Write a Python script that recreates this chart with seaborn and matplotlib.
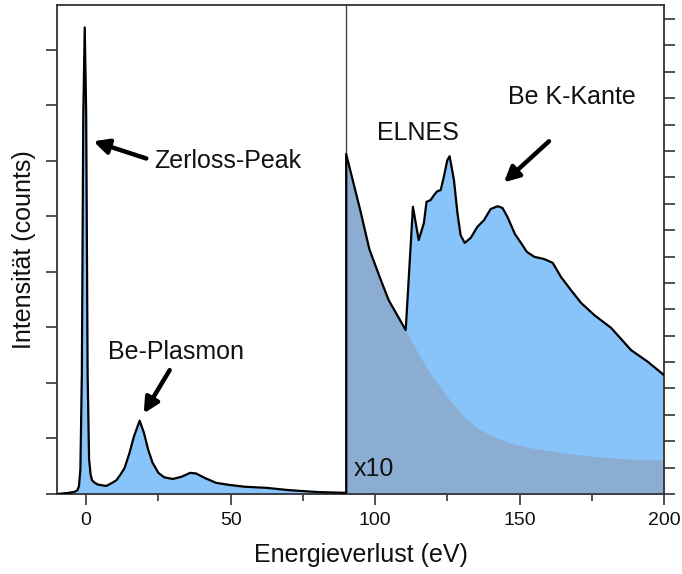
import numpy as np
import pandas as pd
import matplotlib
matplotlib.use("Agg")
import matplotlib.pyplot as plt
import seaborn as sns

# ---- data ----
# low-loss region (x1)
low_energy = [-10, -6, -4, -3, -2.5, -2, -1.5, -1, -0.5, 0, 0.5, 1, 1.5, 2, 3, 4, 5, 7, 9,
              10.5, 12, 13.3, 15, 16.5, 18.5, 20, 21.5, 23, 25, 27, 30, 33, 36, 38, 41,
              45, 50, 55, 62.5, 70, 80, 90]
low_counts = [0, 20, 40, 70, 140, 450, 2160, 6840, 8400, 6840, 2160, 630, 360, 250, 200, 170,
              160, 145, 200, 250, 360, 470, 740, 1030, 1320, 1100, 790, 560, 380, 300, 270,
              310, 380, 370, 290, 200, 160, 130, 110, 70, 35, 20]

# core-loss region (raw counts, shown x10)
edge_energy = [90, 95, 98, 102, 104.7, 107, 110.6, 113.1, 115.1, 116.9, 117.8, 119.2, 120.4,
               121.5, 122.7, 123.8, 125, 125.8, 127.3, 128.5, 129.6, 131, 133.1, 135.4, 137.7,
               140, 142.4, 144.1, 145.8, 148.4, 150.5, 152.5, 155.1, 158.5, 161.5, 164.3,
               167.8, 171.3, 175.9, 181.7, 188.6, 194.4, 200]
edge_counts = [612, 508, 441, 385, 349, 328, 295, 517, 457, 488, 526, 529, 538,
               545, 547, 571, 601, 608, 565, 506, 466, 452, 461, 481, 493,
               513, 518, 515, 499, 468, 452, 436, 427, 423, 416, 391,
               367, 344, 322, 299, 259, 238, 214]

# background under the edge (raw counts, shown x10)
bkg_energy = [90, 95, 98, 102, 104.7, 107, 110.6, 115, 119, 125, 130.7, 136, 142, 148, 154,
              165, 177, 188, 200]
bkg_counts = [612, 508, 441, 385, 349, 328, 295, 252, 218, 175, 139, 117, 101, 90, 83,
              74, 67, 63, 61]

scale = 10
split_energy = 90

low_df = pd.DataFrame({"E": low_energy, "I": low_counts})
edge_df = pd.DataFrame({"E": edge_energy, "I": np.array(edge_counts) * scale})
bkg_df = pd.DataFrame({"E": bkg_energy, "I": np.array(bkg_counts) * scale})
line_df = pd.concat([low_df, edge_df], ignore_index=True)

# ---- style ----
sns.set_style("ticks")
plt.rcParams["font.family"] = ["Liberation Sans", "DejaVu Sans"]
plt.rcParams["text.color"] = "#111111"
plt.rcParams["axes.labelcolor"] = "#111111"
plt.rcParams["xtick.color"] = "#111111"

light_blue = "#88C4FA"
dark_blue = "#8CADD2"
spine_col = "#333333"

fig = plt.figure(figsize=(6.82, 5.74), dpi=100)
ax = fig.add_axes([0.084, 0.1394, 0.8896, 0.8516])

ax.fill_between(low_df["E"], 0, low_df["I"], color=light_blue, lw=0)
ax.fill_between(edge_df["E"], 0, edge_df["I"], color=light_blue, lw=0)
ax.fill_between(bkg_df["E"], 0, bkg_df["I"], color=dark_blue, lw=0)
ax.axvline(split_energy, color="#444444", lw=1.0, zorder=3)
sns.lineplot(data=line_df, x="E", y="I", ax=ax, color="black", lw=1.6, sort=False,
             estimator=None, zorder=4)

ax.set_xlim(-10, 200)
ax.set_ylim(0, 8800)
ax.set_xticks([0, 50, 100, 150, 200])
ax.set_xticks([25, 75, 125, 175], minor=True)
ax.set_yticks(np.arange(0, 9) * 1000)
ax.set_yticklabels([])
ax.tick_params(axis="x", which="major", length=8, width=1.2, labelsize=14, pad=5,
               color=spine_col, labelcolor="#111111")
ax.tick_params(axis="x", which="minor", length=5, width=1.2, color=spine_col)
ax.tick_params(axis="y", length=8, width=1.2, color=spine_col)
for s in ax.spines.values():
    s.set_color(spine_col)
    s.set_linewidth(1.3)

ax2 = ax.twinx()
ax2.set_ylim(0, 8800)
ax2.set_yticks(np.arange(0, 19) * 475)
ax2.set_yticklabels([])
ax2.tick_params(axis="y", length=8, width=1.2, color=spine_col)
for s in ax2.spines.values():
    s.set_visible(False)

ax.set_xlabel("Energieverlust (eV)", fontsize=18, labelpad=10)
ax.set_ylabel("Intensität (counts)", fontsize=18, labelpad=4)

arrow = dict(arrowstyle="-|>,head_length=0.9,head_width=0.45", lw=3.2, color="black",
             shrinkA=0, shrinkB=0)
fs = 18
ax.annotate("", xy=(2.5, 6350), xytext=(20.8, 6040), arrowprops=arrow)
ax.text(23.4, 6000, "Zerloss-Peak", fontsize=fs, va="center", ha="left")
ax.annotate("", xy=(19.9, 1450), xytext=(28.9, 2230), arrowprops=arrow)
ax.text(31.2, 2560, "Be-Plasmon", fontsize=fs, va="center", ha="center")
ax.text(114.8, 6500, "ELNES", fontsize=fs, va="center", ha="center")
ax.text(168.2, 7140, "Be K-Kante", fontsize=fs, va="center", ha="center")
ax.annotate("", xy=(144.6, 5610), xytext=(160.2, 6350), arrowprops=arrow)
ax.text(92.5, 450, "x10", fontsize=18, va="center", ha="left")

fig.savefig("out.png", dpi=100)
